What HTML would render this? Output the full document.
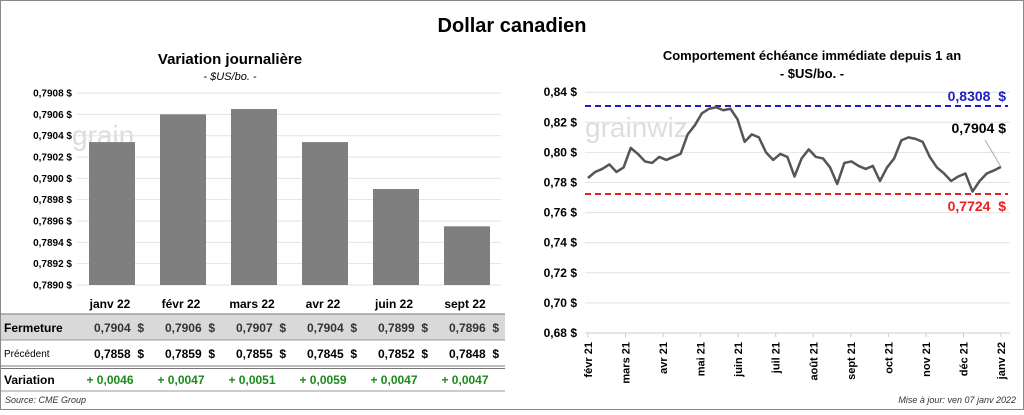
<!DOCTYPE html>
<html><head><meta charset="utf-8"><style>
body{margin:0;background:#fff;font-family:"Liberation Sans",Arial,sans-serif}
svg text{font-family:"Liberation Sans",Arial,sans-serif}
</style></head><body>
<svg width="1024" height="410" viewBox="0 0 1024 410" xmlns="http://www.w3.org/2000/svg">
<rect x="0.5" y="0.5" width="1023" height="409" fill="#fff" stroke="#888"/>
<text x="512" y="32" text-anchor="middle" font-size="20" font-weight="bold">Dollar canadien</text>
<text x="230" y="64" text-anchor="middle" font-size="15" font-weight="bold">Variation  journalière</text>
<text x="230" y="80" text-anchor="middle" font-size="11" font-style="italic">- $US/bo. -</text>
<text x="812" y="60" text-anchor="middle" font-size="13" font-weight="bold">Comportement échéance immédiate depuis 1 an</text>
<text x="812" y="78" text-anchor="middle" font-size="13" font-weight="bold">- $US/bo. -</text>
<g id="left"></g>
<g id="table"></g>
<g id="right"></g>
<text x="5" y="403" font-size="9" font-style="italic" fill="#333">Source: CME Group</text>
<text x="1016" y="403" text-anchor="end" font-size="9" font-style="italic" fill="#333">Mise à jour: ven 07 janv 2022</text>
</svg>
<script>
const barCats=["janv 22","févr 22","mars 22","avr 22","juin 22","sept 22"];
const barVals=[0.79034,0.7906,0.79065,0.79034,0.7899,0.78955];
const barTicks=[0.7890,0.7892,0.7894,0.7896,0.7898,0.7900,0.7902,0.7904,0.7906,0.7908];
const closeVals=["0,7904","0,7906","0,7907","0,7904","0,7899","0,7896"];
const prevVals=["0,7858","0,7859","0,7855","0,7845","0,7852","0,7848"];
const varVals=["+ 0,0046","+ 0,0047","+ 0,0051","+ 0,0059","+ 0,0047","+ 0,0047"];
const lineMonths=["févr 21","mars 21","avr 21","mai 21","juin 21","juil 21","août 21","sept 21","oct 21","nov 21","déc 21","janv 22"];
const lineVals=[0.783,0.787,0.789,0.792,0.787,0.790,0.803,0.799,0.794,0.793,0.797,0.795,0.797,0.799,0.812,0.818,0.826,0.829,0.830,0.828,0.829,0.822,0.807,0.812,0.810,0.800,0.795,0.799,0.797,0.784,0.796,0.802,0.797,0.796,0.790,0.779,0.793,0.794,0.791,0.789,0.791,0.781,0.790,0.796,0.808,0.810,0.809,0.807,0.797,0.790,0.786,0.781,0.784,0.786,0.774,0.781,0.786,0.788,0.7904];
const lineTicks=[0.68,0.70,0.72,0.74,0.76,0.78,0.80,0.82,0.84];
const maxVal=0.8308,minVal=0.7724,lastVal=0.7904;
const NS="http://www.w3.org/2000/svg";
const SP="\u00a0\u00a0";
function mk(p,t,a,txt){const e=document.createElementNS(NS,t);for(const k in a)e.setAttribute(k,a[k]);if(txt!==undefined)e.textContent=txt;p.appendChild(e);return e;}
const fmt=(v,d)=>v.toFixed(d).replace('.',',');
const L=document.getElementById('left');
const ly=v=>285-(v-0.7890)/0.0002*21.33;
const lx=i=>112+i*71;
mk(L,'text',{x:72,y:145,'font-size':28,fill:'#ddd'},'grain');
barTicks.forEach(t=>{
 const g=mk(L,'line',{x1:77,x2:501,y1:ly(t),y2:ly(t),stroke:'#e2e2e2'});
 
 const tx=mk(L,'text',{x:72,y:ly(t)+3.5,'text-anchor':'end','font-size':10,'font-weight':'bold'},fmt(t,4)+' $');
 
});
barVals.forEach((v,i)=>{
 const r=mk(L,'rect',{x:lx(i)-23,y:ly(v),width:46,height:285-ly(v),fill:'#7f7f7f'});
 
});
const T=document.getElementById('table');
mk(T,'rect',{x:1,y:314,width:504,height:26,fill:'#d9d9d9'});
mk(T,'line',{x1:1,x2:505,y1:314,y2:314,stroke:'#777'});
mk(T,'line',{x1:1,x2:505,y1:340,y2:340,stroke:'#999'});
mk(T,'line',{x1:1,x2:505,y1:366,y2:366,stroke:'#777'});
mk(T,'line',{x1:1,x2:505,y1:368.5,y2:368.5,stroke:'#777'});
mk(T,'line',{x1:1,x2:505,y1:391,y2:391,stroke:'#999'});
[["Fermeture",332,12,'bold'],["Précédent",357,10,'normal'],["Variation",384,12,'bold']].forEach(r=>{
 const e=mk(T,'text',{x:4,y:r[1],'font-size':r[2],'font-weight':r[3]},r[0]);
 
});
barCats.forEach((c,i)=>{
 const x=lx(i)-2;
 const e=mk(T,'text',{x:x,y:308,'text-anchor':'middle','font-size':12,'font-weight':'bold'},c);
 
 const a=mk(T,'text',{x:x+34,y:332,'text-anchor':'end','font-size':12,'font-weight':'bold',fill:'#333'},closeVals[i]+SP+'$');
 
 const b=mk(T,'text',{x:x+34,y:358,'text-anchor':'end','font-size':12,'font-weight':'bold'},prevVals[i]+SP+'$');
 
 const d=mk(T,'text',{x:x,y:384,'text-anchor':'middle','font-size':12,'font-weight':'bold',fill:'#1a8a1a'},varVals[i]);
 
});
const R=document.getElementById('right');
const ry=v=>333-(v-0.68)/0.02*30.1;
const x0=588,x1=1001;
const rx=i=>x0+i*(x1-x0)/(lineVals.length-1);
mk(R,'text',{x:585,y:137,'font-size':28,fill:'#ddd'},'grainwiz');
lineTicks.forEach(t=>{
 const g=mk(R,'line',{x1:585,x2:1010,y1:ry(t),y2:ry(t),stroke:t===0.68?'#ccc':'#e2e2e2'});
 
 const tx=mk(R,'text',{x:577,y:ry(t)+4,'text-anchor':'end','font-size':12,'font-weight':'bold'},fmt(t,2)+' $');
 
});
lineMonths.forEach((m,i)=>{
 const x=x0+i*(x1-x0)/(lineMonths.length-1);
 mk(R,'line',{x1:x,x2:x,y1:333,y2:337,stroke:'#ccc'});
 const e=mk(R,'text',{x:0,y:0,'text-anchor':'end','font-size':11,'font-weight':'bold',transform:`translate(${x+4},342) rotate(-90)`},m);
 
});
const bl=mk(R,'line',{x1:585,x2:1008,y1:ry(maxVal),y2:ry(maxVal),stroke:'#2020c0','stroke-width':2,'stroke-dasharray':'6,4'});

const rl=mk(R,'line',{x1:585,x2:1008,y1:ry(minVal),y2:ry(minVal),stroke:'#e82020','stroke-width':2,'stroke-dasharray':'6,4'});

const p=mk(R,'polyline',{points:lineVals.map((v,i)=>rx(i)+','+ry(v)).join(' '),fill:'none',stroke:'#555','stroke-width':2.5,'stroke-linejoin':'round'});

const ml=mk(R,'text',{x:1006,y:ry(maxVal)-5,'text-anchor':'end','font-size':14,'font-weight':'bold',fill:'#2020c0'},fmt(maxVal,4)+SP+'$');

const nl=mk(R,'text',{x:1006,y:ry(minVal)+17,'text-anchor':'end','font-size':14,'font-weight':'bold',fill:'#e82020'},fmt(minVal,4)+SP+'$');

mk(R,'line',{x1:985,y1:140,x2:x1,y2:ry(lastVal),stroke:'#aaa'});
const ll=mk(R,'text',{x:1006,y:133,'text-anchor':'end','font-size':14,'font-weight':'bold'},fmt(lastVal,4)+' $');

</script>
</body></html>
